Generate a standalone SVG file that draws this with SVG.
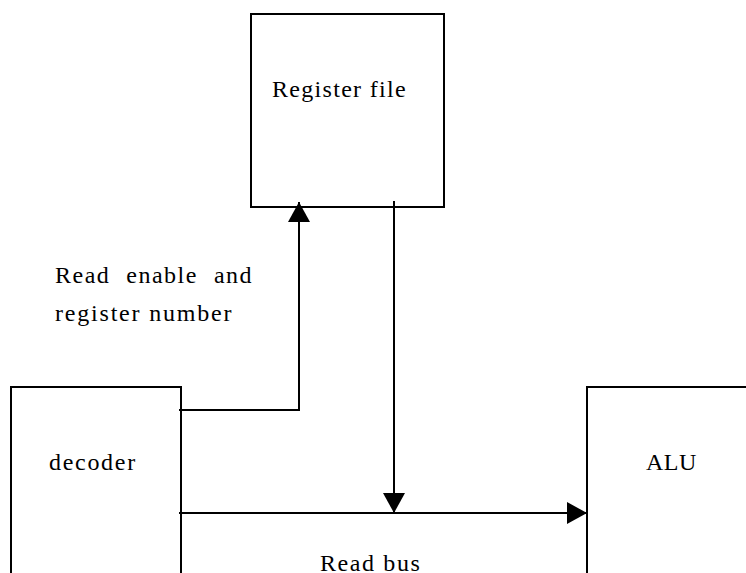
<svg xmlns="http://www.w3.org/2000/svg" width="746" height="573" viewBox="0 0 746 573">
<defs>
<marker id="ah" viewBox="0 0 20 22" refX="20" refY="11" markerWidth="20" markerHeight="22" markerUnits="userSpaceOnUse" orient="auto">
<path d="M0,0 L20,11 L0,22 Z" fill="#000"/>
</marker>
</defs>
<rect width="746" height="573" fill="#fff"/>
<g id="regfile">
<rect x="251" y="14" width="193" height="193" fill="#fff" stroke="#000" stroke-width="2"/>
<text x="272" y="97" font-family="Liberation Serif" font-size="24" letter-spacing="1.3">Register file</text>
</g>
<g id="decoder">
<rect x="11" y="387" width="170" height="200" fill="#fff" stroke="#000" stroke-width="2"/>
<text x="49" y="470" font-family="Liberation Serif" font-size="24" letter-spacing="1.7">decoder</text>
</g>
<g id="alu">
<rect x="587" y="387" width="180" height="200" fill="#fff" stroke="#000" stroke-width="2"/>
<text x="646" y="470" font-family="Liberation Serif" font-size="24" letter-spacing="0.5">ALU</text>
</g>
<g id="connectors" fill="none" stroke="#000" stroke-width="2">
<path d="M179,410 H299 V202" marker-end="url(#ah)"/>
<path d="M394,201 V513" marker-end="url(#ah)"/>
<path d="M179,513 H587" marker-end="url(#ah)"/>
</g>
<g id="labels">
<text x="55" y="283" font-family="Liberation Serif" font-size="24" letter-spacing="1.5" word-spacing="8.5">Read enable and</text>
<text x="55" y="321" font-family="Liberation Serif" font-size="24" letter-spacing="1.8">register number</text>
<text x="320" y="571" font-family="Liberation Serif" font-size="24" letter-spacing="1.6">Read bus</text>
</g>
</svg>
